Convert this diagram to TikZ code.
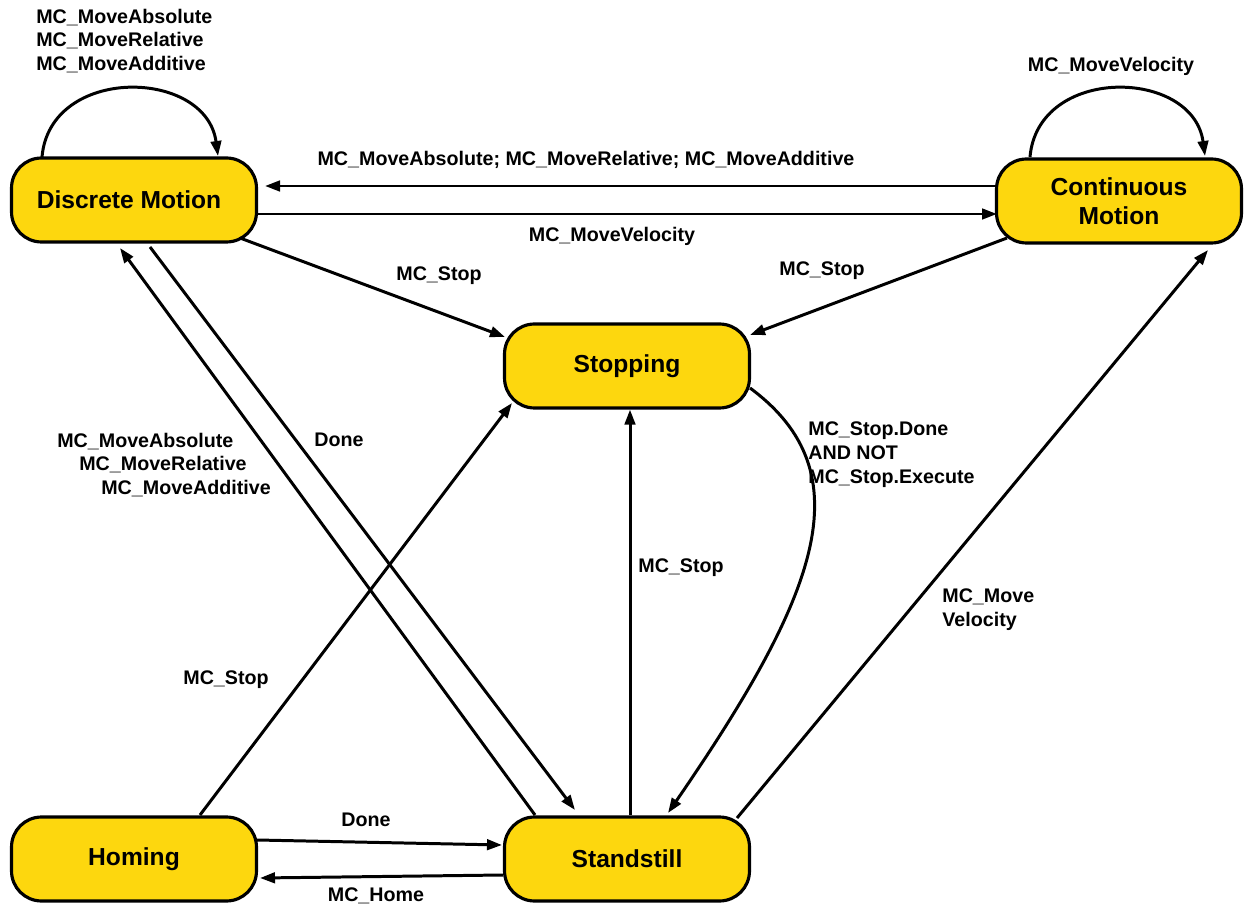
\documentclass[tikz,border=0pt]{standalone}
\usepackage{fontspec}
\setmainfont{Liberation Sans}
\usetikzlibrary{arrows.meta, calc}
\definecolor{plcyellow}{RGB}{253,215,14}

\begin{document}
\begin{tikzpicture}[
    x=0.02cm, y=-0.02cm,
    >={Triangle[length=3mm, width=2.1mm]},
    statebox/.style={draw, line width=1.8pt, rounded corners=0.6cm,
        fill=plcyellow, minimum width=4.9cm, minimum height=1.68cm,
        align=center, font=\fontsize{14pt}{16.5pt}\selectfont\bfseries},
    lbl/.style={font=\fontsize{11.2pt}{13.6pt}\selectfont\bfseries,
        inner sep=0pt},
    trans/.style={->, line width=1.7pt}
  ]
  \useasboundingbox (0,0) rectangle (1244,908);

  % states
  \node[statebox] (dm) at (134,200) {Discrete Motion\hspace*{0.2cm}};
  \node[statebox] (cm) at (1119,201) {Continuous\\Motion};
  \node[statebox] (st) at (627,366) {Stopping};
  \node[statebox] (hm) at (134,859) {Homing};
  \node[statebox] (ss) at (627,859) {Standstill};

  % self loops
  \draw[trans] ($(dm)+(-92,-43)$) .. controls +(8,-92) and +(-12,-88) .. ($(dm)+(84,-44)$);
  \draw[trans] ($(cm)+(-89,-44)$) .. controls +(8,-92) and +(-12,-88) .. ($(cm)+(86,-45)$);

  % between the motions
  \draw[trans] ($(cm)+(-121,-15)$) -- ($(dm)+(131,-14)$);
  \draw[trans] ($(dm)+(124,14)$) -- ($(cm)+(-122,13)$);

  % to stopping
  \draw[trans] ($(dm)+(106,38)$) -- ($(st)+(-122,-29)$);
  \draw[trans] ($(cm)+(-112,37)$) -- ($(st)+(123,-31)$);
  \draw[trans] ($(hm)+(66,-44)$) -- ($(st)+(-115,37)$);
  \draw[trans] ($(ss.north)+(3,0)$) -- ($(st.south)+(3,0)$);

  % stopping done
  \draw[trans] ($(st)+(123,22)$) .. controls +(115,85) and +(150,-218) .. ($(ss)+(41,-46)$);

  % standstill and discrete motion
  \draw[trans] ($(ss)+(-92,-44)$) -- ($(dm)+(-14,48)$);
  \draw[trans] ($(dm)+(16,47)$) -- ($(ss)+(-52,-49)$);

  % standstill and continuous motion
  \draw[trans] ($(ss)+(110,-41)$) -- ($(cm)+(89,49)$);

  % homing
  \draw[trans] ($(hm)+(123,-19)$) -- ($(ss)+(-125,-14)$);
  \draw[trans] ($(ss)+(-124,16)$) -- ($(hm)+(126,19)$);

  % labels
  \node[lbl, align=left, anchor=west] (lDmLoop) at (36,41)
    {MC\_MoveAbsolute\\MC\_MoveRelative\\MC\_MoveAdditive};
  \node[lbl] (lCmLoop) at (1111,66) {MC\_MoveVelocity};
  \node[lbl] (lToDm) at (586,160)
    {MC\_MoveAbsolute; MC\_MoveRelative; MC\_MoveAdditive};
  \node[lbl] (lToCm) at (612,236) {MC\_MoveVelocity};
  \node[lbl] (lDmStop) at (439,276) {MC\_Stop};
  \node[lbl] (lCmStop) at (822,271) {MC\_Stop};
  \node[lbl, align=left, anchor=west] (lStopDone) at (808,455)
    {MC\_Stop.Done\\AND NOT\\MC\_Stop.Execute};
  \node[lbl] (lDone) at (339,440) {Done};
  \node[lbl, align=left, anchor=west] (lSsDm) at (57,465)
    {MC\_MoveAbsolute\\\hspace*{0.44cm}MC\_MoveRelative\\\hspace*{0.88cm}MC\_MoveAdditive};
  \node[lbl] (lSsStop) at (681,568) {MC\_Stop};
  \node[lbl, align=left, anchor=west] (lSsCm) at (942,610) {MC\_Move\\Velocity};
  \node[lbl] (lHmStop) at (226,680) {MC\_Stop};
  \node[lbl] (lHmDone) at (366,820) {Done};
  \node[lbl] (lHome) at (376,896) {MC\_Home};
\end{tikzpicture}
\end{document}
